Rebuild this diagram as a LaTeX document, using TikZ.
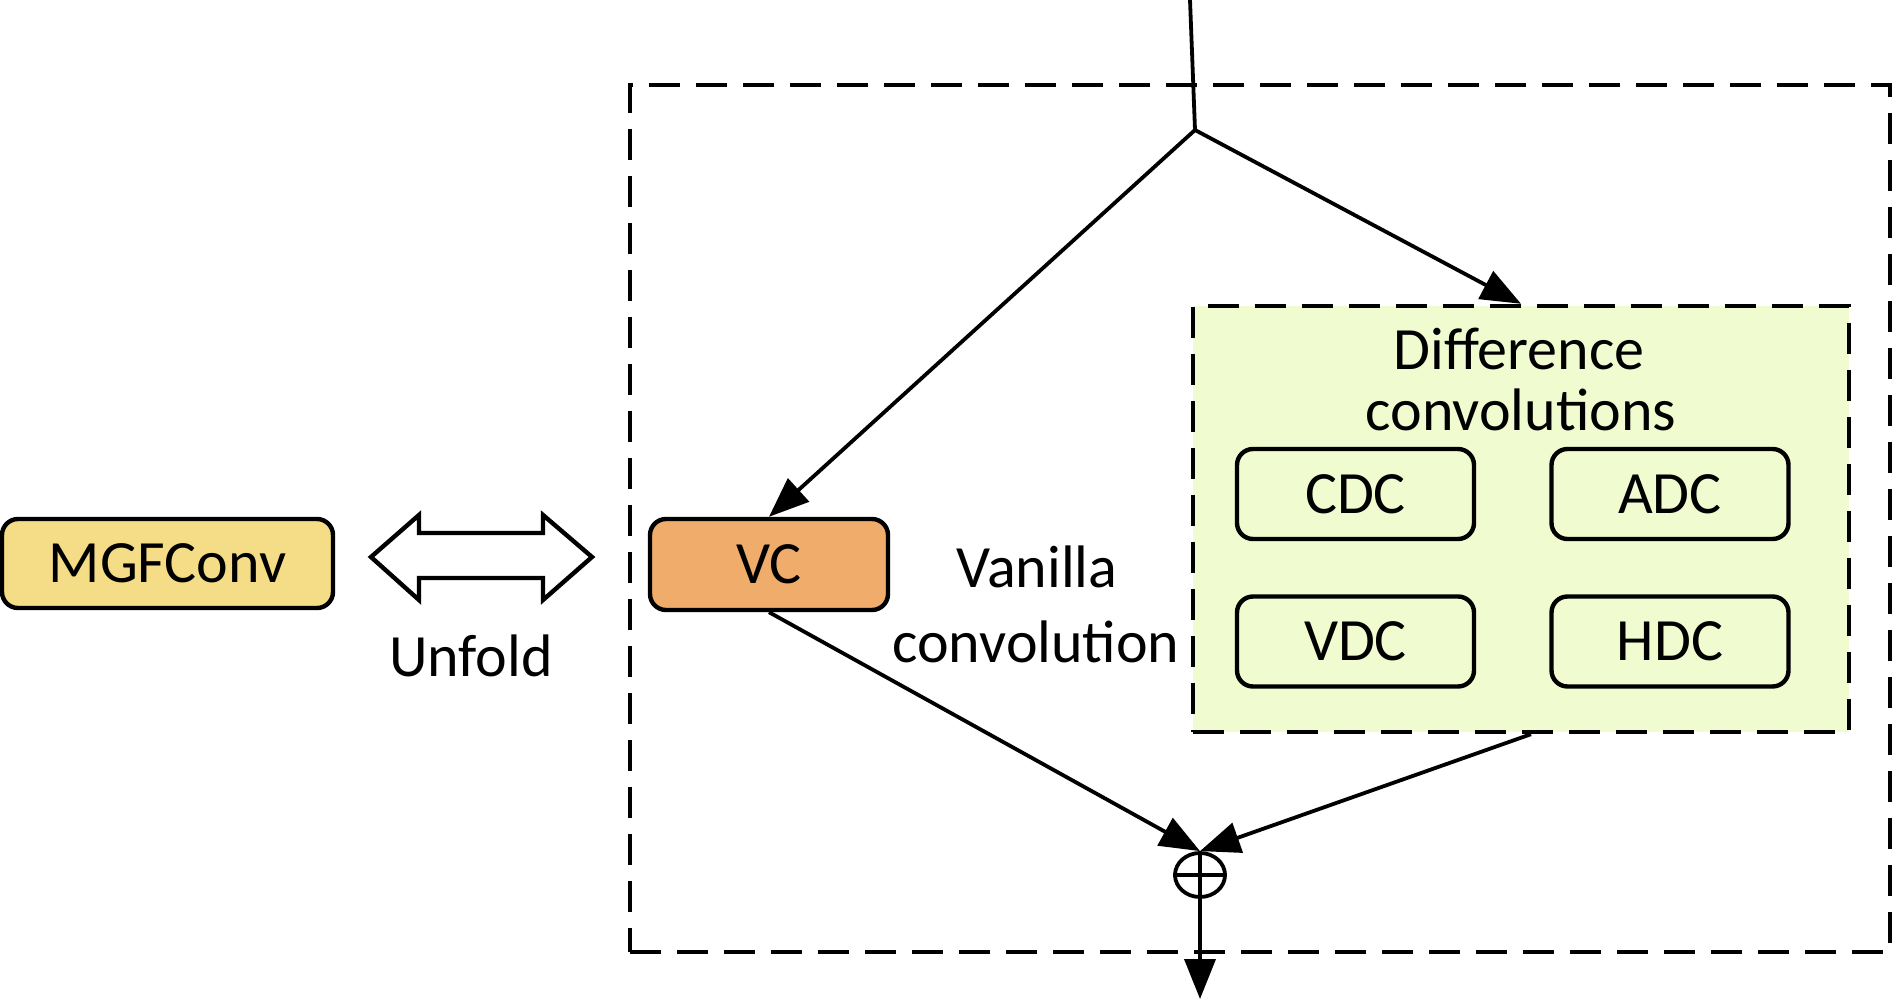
\documentclass[tikz,border=0pt]{standalone}
\usepackage{fontspec}
\setmainfont{Carlito}
\usetikzlibrary{shapes.geometric,arrows.meta,calc}
\definecolor{mgfcol}{HTML}{F5DC86}
\definecolor{vccol}{HTML}{F0AC6A}
\definecolor{diffcol}{HTML}{F0FBD0}
\tikzset{
  lbl/.style={font=\fontsize{30}{31}\selectfont, inner sep=0pt},
  rbox/.style={draw, line width=2.2pt, rounded corners=8pt, inner sep=0pt, font=\fontsize{30}{31}\selectfont},
  dbox/.style={draw, line width=2.2pt, dash pattern=on 15.5pt off 8pt, inner sep=0pt},
  conn/.style={line width=1.9pt, -{Triangle[length=20pt,width=15.5pt]}},
  plain/.style={line width=1.9pt},
}
\begin{document}
\begin{tikzpicture}[x=0.5pt,y=-0.5pt]
\useasboundingbox (0,0) rectangle (1894,999);
% outer dashed box
\node[dbox, minimum width=630pt, minimum height=433.5pt] (outer) at (1260,518.5) {};
% difference convolutions box
\node[dbox, fill=diffcol, minimum width=328pt, minimum height=213pt] (diff) at (1521,519) {};
\node[lbl, anchor=base] (difft1) at (1519,370) {Difference};
\node[lbl, anchor=base] (difft2) at (1521,431) {convolutions};
\node[rbox, minimum width=118.5pt, minimum height=45pt] (cdc) at (1355.5,494) {CDC};
\node[rbox, minimum width=118.5pt, minimum height=45pt] (adc) at (1670,494) {ADC};
\node[rbox, minimum width=118.5pt, minimum height=45pt] (vdc) at (1355.5,641.5) {VDC};
\node[rbox, minimum width=118.5pt, minimum height=45pt] (hdc) at (1670,641.5) {HDC};
% VC
\node[rbox, fill=vccol, minimum width=119pt, minimum height=45.5pt] (vc) at (769,564.5) {VC};
\node[lbl, anchor=base] (van1) at (1037,587) {Vanilla};
\node[lbl, anchor=base] (van2) at (1036,662) {convolution};
% MGFConv
\node[rbox, fill=mgfcol, minimum width=165.5pt, minimum height=44.5pt] (mgf) at (167.5,563.5) {MGFConv};
% double arrow
\draw[line width=2.2pt, line join=miter, fill=white] (371,557) -- (419,515) -- (419,533) -- (543,533) -- (543,515) -- (592,557) -- (543,600) -- (543,578) -- (419,578) -- (419,600) -- cycle;
\node[lbl, anchor=base] (unfold) at (471,676) {Unfold};
% sum
\node[draw, ellipse, line width=1.9pt, minimum width=25pt, minimum height=22pt, inner sep=0pt] (sum) at (1200,875) {};
\draw[plain] (sum.north) -- (sum.south);
\draw[plain] (sum.west) -- (sum.east);
% connectors
\coordinate (top) at (1190,0);
\coordinate (split) at (1195,130);
\coordinate (out) at (1200,999);
\draw[plain] (top) -- (split);
\draw[conn] (split) -- (vc.north);
\draw[conn] (split) -- (diff.north);
\draw[conn] (vc.south) -- (sum.north);
\draw[conn] ($(diff.south)+(10,0)$) -- (sum.north);
\draw[conn] (sum.south) -- (out);
\end{tikzpicture}
\end{document}
